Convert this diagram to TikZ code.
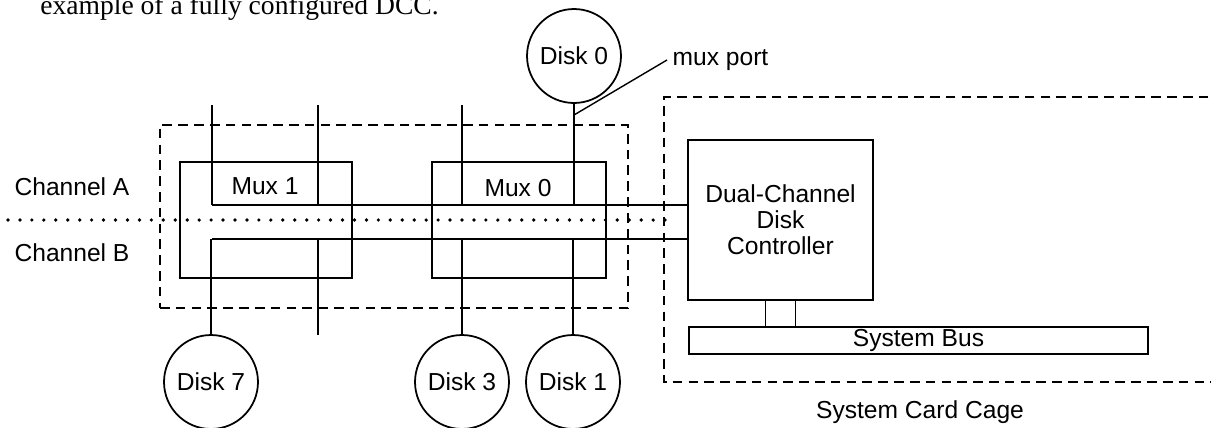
\documentclass[tikz,border=0pt]{standalone}
\usepackage{fontspec}
\setmainfont{Liberation Serif}
\setsansfont{Liberation Sans}
\usetikzlibrary{positioning}

\begin{document}
\begin{tikzpicture}[
  x=0.02cm, y=-0.02cm,
  font=\fontsize{14}{15}\sffamily\selectfont,
  wire/.style={draw=black, line width=1pt},
  cage/.style={draw=black, line width=1pt, dash pattern=on 5.5pt off 3.5pt},
  chsep/.style={draw=black, line width=2.1pt, line cap=round, dash pattern=on 0pt off 6.8pt},
  blk/.style={draw=black, line width=1pt, inner sep=0pt},
  disk/.style={draw=black, line width=1pt, circle, minimum size=1.88cm, inner sep=0pt},
  lbl/.style={inner sep=1pt},
]
\def\u{0.02cm} % one pixel of the drawing

\useasboundingbox (0,0) rectangle (1211,427);

%% ============ caption (cut at the page top) ============
\node[font=\fontsize{15.7}{18}\rmfamily\selectfont, anchor=base west, inner sep=0pt] (cap) at (40,14) {example of a fully configured DCC.};

%% ============ enclosures ============
\node[cage, minimum width={468*\u}, minimum height={183*\u}] (muxcage) at (394,216.5) {};
\coordinate (cgTL) at (664,97);
\coordinate (cgBL) at (664,382);
\draw[cage] (cgTL -| 1240,0) -- (cgTL) -- (cgBL) -- (cgBL -| 1240,0);
\node[lbl] (cgtxt) at (920,412) {System Card Cage};

%% ============ muxes ============
\node[blk, minimum width={172*\u}, minimum height={116*\u}] (mux1) at (266,220) {};
\node[blk, minimum width={174*\u}, minimum height={116*\u}] (mux0) at (519,220) {};
\node[lbl] (m1txt) at (265,186) {Mux 1};
\node[lbl] (m0txt) at (518,188) {Mux 0};

%% ============ controller and bus ============
\node[blk, minimum width={185*\u}, minimum height={160*\u}, align=center,
  font=\fontsize{14}{14.7}\sffamily\selectfont] (ctrl) at (780.5,220) {Dual-Channel\\Disk\\Controller};
\node[blk, minimum width={459*\u}, minimum height={27*\u}] (bus) at (918.5,340.5) {System Bus};
\draw[wire] ([xshift=-15*\u]ctrl.south) -- ([xshift=-15*\u]ctrl.south |- bus.north);
\draw[wire] ([xshift=15*\u]ctrl.south) -- ([xshift=15*\u]ctrl.south |- bus.north);

%% ============ disks ============
\node[disk] (d0) at (574,56) {Disk 0};
\node[disk] (d7) at (211,382) {Disk 7};
\node[disk] (d3) at (462,382) {Disk 3};
\node[disk] (d1) at (573,382) {Disk 1};

%% ============ channels ============
\node[lbl] (chAtxt) at (72,187) {Channel A};
\node[lbl] (chBtxt) at (72,253) {Channel B};
\coordinate (chA) at (212,205);
\coordinate (chB) at (212,239);
\draw[wire] (chA) -- (chA -| ctrl.west);
\draw[wire] (chB) -- (chB -| ctrl.west);
\coordinate (sepL) at (8,220);
\coordinate (sepR) at (676,220);
\draw[chsep] (sepL) -- (sepR);

% ports on channel A
\coordinate (a1) at (212,105);
\coordinate (a2) at (318,105);
\coordinate (a3) at (462,105);
\draw[wire] (a1) -- (a1 |- chA);
\draw[wire] (a2) -- (a2 |- chA);
\draw[wire] (a3) -- (a3 |- chA);
\draw[wire] (d0.south) -- (d0.south |- chA);
% ports on channel B
\coordinate (b2) at (318,335);
\draw[wire] (d7.north) -- (d7.north |- chB);
\draw[wire] (b2) -- (b2 |- chB);
\draw[wire] (d3.north) -- (d3.north |- chB);
\draw[wire] (d1.north) -- (d1.north |- chB);

% mux port callout
\node[lbl, anchor=west, inner sep=3pt] (mptxt) at (667,60) {mux port};
\coordinate (mp) at (574,115);
\draw[wire, line width=0.8pt] (mptxt.west) -- (mp);

\end{tikzpicture}
\end{document}
